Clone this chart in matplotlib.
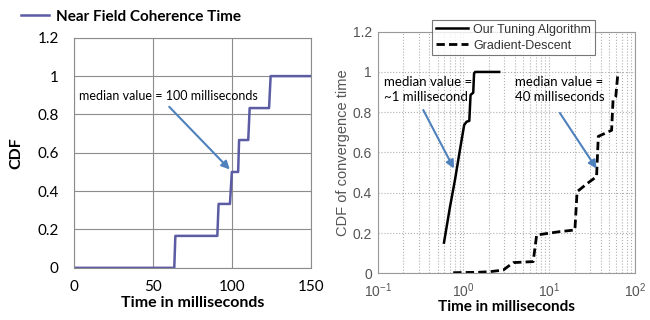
"""
Convergence time CDFs: near-field coherence time vs. tuning algorithms.
"""
import matplotlib
matplotlib.use("Agg")
import matplotlib.pyplot as plt
import numpy as np

# left panel: near field coherence time (ms) and its CDF
coh_time = [0, 63.5, 64.2, 90.8, 91.6, 98.8, 100, 104, 104.6, 110.4, 111.3,
            123.6, 124.6, 150]
coh_cdf = [0, 0, 1 / 6, 1 / 6, 1 / 3, 1 / 3, 1 / 2, 1 / 2, 2 / 3, 2 / 3,
           5 / 6, 5 / 6, 1, 1]

# right panel: convergence time of the two algorithms (ms)
ours_time = [0.593, 0.697, 0.796, 0.91, 1.02, 1.09, 1.17, 1.21, 1.30, 1.33,
             1.37, 2.61]
ours_cdf = [0.152, 0.33, 0.463, 0.613, 0.737, 0.753, 0.757, 0.886, 0.897,
            0.993, 1.0, 1.0]

gd_time = [0.76, 1.5, 2.04, 2.91, 3.8, 6.5, 7.13, 13.3, 19.9, 21.1, 27.5,
           35.6, 37.3, 53.3, 55.4, 59.6, 63.3]
gd_cdf = [0.003, 0.005, 0.008, 0.016, 0.053, 0.058, 0.19, 0.207, 0.215,
          0.405, 0.445, 0.48, 0.68, 0.71, 0.86, 0.877, 1.0]

calibri = "Lato"
arial = "Liberation Sans"
arrow_blue = "#4f81bd"

fig = plt.figure(figsize=(6.5, 3.2), dpi=100)

# ---- left panel (Excel style) ----
ax1 = fig.add_axes([0.114, 0.163, 0.364, 0.719])
ax1.plot(coh_time, coh_cdf, color="#5b5ca3", lw=1.8,
         label="Near Field Coherence Time")
ax1.set_xlim(0, 150)
ax1.set_ylim(0, 1.2)
ax1.set_xticks([0, 50, 100, 150])
ax1.set_yticks(np.arange(0, 1.21, 0.2))
ax1.set_yticklabels(["0", "0.2", "0.4", "0.6", "0.8", "1", "1.2"])
ax1.grid(True, color="#8c8c8c", lw=0.8)
for sp in ax1.spines.values():
    sp.set_color("#8c8c8c")
    sp.set_linewidth(0.8)
ax1.tick_params(length=0, labelsize=11)
ax1.tick_params(axis="y", pad=11)
ax1.tick_params(axis="x", pad=9)
for lab in ax1.get_xticklabels() + ax1.get_yticklabels():
    lab.set_family(calibri)
ax1.set_xlabel("Time in milliseconds", family=calibri, fontweight="bold",
               fontsize=11.5, labelpad=1)
ax1.set_ylabel("CDF", family=calibri, fontweight="bold", fontsize=11.5,
               labelpad=10)
ax1.legend(loc="lower left", bbox_to_anchor=(-0.25, 1.035), frameon=False,
           handlelength=1.8, handletextpad=0.5, borderaxespad=0,
           prop={"family": calibri, "weight": "bold", "size": 11})
ax1.annotate("", xy=(98.7, 0.513), xytext=(60.3, 0.84),
             arrowprops=dict(arrowstyle="-|>", color=arrow_blue, lw=1.5,
                             mutation_scale=12, shrinkA=0, shrinkB=0))
ax1.text(3.2, 0.896, "median value = 100 milliseconds", family=calibri,
         fontsize=9, va="center", ha="left")

# ---- right panel (MATLAB style) ----
ax2 = fig.add_axes([0.581, 0.146, 0.396, 0.755])
ax2.semilogx(ours_time, ours_cdf, color="black", lw=1.8,
             label="Our Tuning Algorithm")
ax2.semilogx(gd_time, gd_cdf, color="black", lw=2.0, ls=(0, (3, 1.5)),
             label="Gradient-Descent")
ax2.set_xlim(0.1, 100)
ax2.set_ylim(0, 1.2)
ax2.set_yticks(np.arange(0, 1.21, 0.2))
ax2.set_yticklabels(["0", "0.2", "0.4", "0.6", "0.8", "1", "1.2"])
ax2.grid(True, which="both", axis="x", color="#b0b0b0", ls=":", lw=0.8)
ax2.grid(True, which="major", axis="y", color="#b0b0b0", ls=":", lw=0.8)
for sp in ax2.spines.values():
    sp.set_color("#999999")
    sp.set_linewidth(0.8)
ax2.tick_params(which="both", direction="in", length=0, colors="#555555",
                labelsize=10, pad=4)
ax2.tick_params(axis="x", pad=6)
for lab in ax2.get_xticklabels() + ax2.get_yticklabels():
    lab.set_family(arial)
ax2.set_xlabel("Time in milliseconds", family=calibri, fontweight="bold",
               fontsize=11, labelpad=0)
ax2.set_ylabel("CDF of convergence time", family=arial, fontsize=10.5,
               color="#555555", labelpad=2)
leg = ax2.legend(loc="upper left", bbox_to_anchor=(0.211, 1.048),
                 borderaxespad=0, fancybox=False, handlelength=2.6,
                 handletextpad=0.4, borderpad=0.3, labelspacing=0.3,
                 prop={"family": arial, "size": 9})
leg.get_frame().set_edgecolor("#555555")
leg.get_frame().set_linewidth(0.8)
for t in leg.get_texts():
    t.set_color("#333333")
ax2.annotate("", xy=(0.775, 0.52), xytext=(0.34, 0.811),
             arrowprops=dict(arrowstyle="-|>", color=arrow_blue, lw=1.5,
                             mutation_scale=12, shrinkA=0, shrinkB=0))
ax2.annotate("", xy=(35.6, 0.52), xytext=(13.3, 0.796),
             arrowprops=dict(arrowstyle="-|>", color=arrow_blue, lw=1.5,
                             mutation_scale=12, shrinkA=0, shrinkB=0))
ax2.text(0.118, 0.915, "median value =\n~1 millisecond", family=calibri,
         fontsize=9.5, va="center", ha="left", linespacing=1.3)
ax2.text(3.98, 0.915, "median value =\n40 milliseconds", family=calibri,
         fontsize=9.5, va="center", ha="left", linespacing=1.3)

fig.savefig("out.png", dpi=100)
